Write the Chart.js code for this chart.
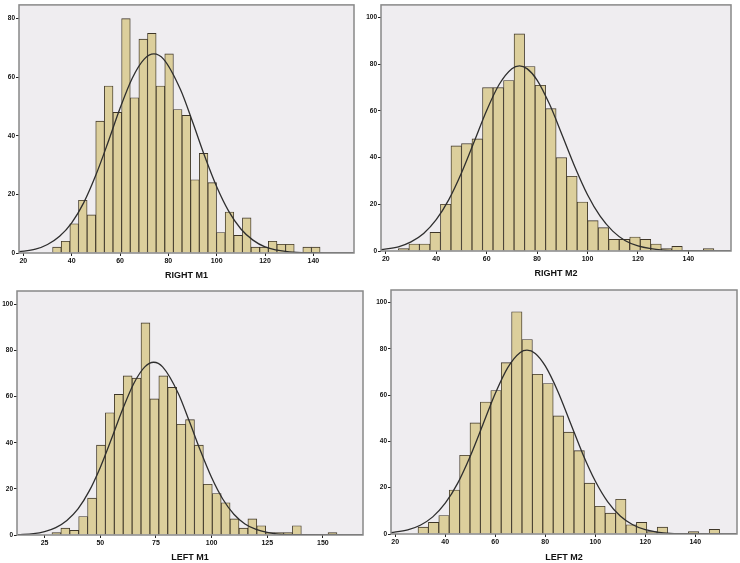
<!DOCTYPE html>
<html>
<head>
<meta charset="utf-8">
<script src="https://cdn.jsdelivr.net/npm/chart.js@4.4.1/dist/chart.umd.min.js"></script>
<style>
  body { margin: 0; background: #fff; }
  #wrap { position: relative; width: 740px; height: 563px; overflow: hidden; }
  canvas { position: absolute; }
</style>
</head>
<body>
<div id="wrap">
  <canvas id="rightM1" width="362" height="285" style="left:0;top:0"></canvas>
  <canvas id="rightM2" width="378" height="285" style="left:362px;top:0"></canvas>
  <canvas id="leftM1" width="370" height="278" style="left:0;top:285px"></canvas>
  <canvas id="leftM2" width="368" height="278" style="left:372px;top:285px"></canvas>
</div>
<script>
// RIGHT M1 - bins (first edge, bin width, counts)
const rm1Start = 32.1, rm1Width = 3.57;
const rm1Counts = [2, 4, 10, 18, 13, 45, 57, 48, 80, 53, 73, 75, 57, 68, 49, 47, 25, 34, 24, 7, 14, 6, 12, 2, 2, 4, 3, 3, 0, 2, 2];
const rm1CurveX = [18, 25, 30, 35, 40, 45, 50, 55, 60, 65, 70, 74, 78, 85, 90, 95, 100, 105, 110, 115, 120, 130, 140, 157];
const rm1CurveY = [0.4, 1.3, 2.9, 5.7, 10.3, 17.2, 26.6, 37.7, 49.4, 59.6, 66.2, 68.0, 66.2, 55.8, 44.8, 33.1, 22.6, 14.2, 8.2, 4.4, 2.1, 0.4, 0.1, 0];
const rm1XTicks = [20, 40, 60, 80, 100, 120, 140];
const rm1YTicks = [0, 20, 40, 60, 80];

// RIGHT M2
const rm2Start = 25.0, rm2Width = 4.17;
const rm2Counts = [1, 3, 3, 8, 20, 45, 46, 48, 70, 70, 73, 93, 79, 71, 61, 40, 32, 21, 13, 10, 5, 5, 6, 5, 3, 1, 2, 0, 0, 1];
const rm2CurveX = [18, 25, 30, 35, 40, 45, 50, 55, 60, 65, 70, 73, 76, 80, 85, 90, 95, 100, 105, 110, 115, 120, 130, 140, 157];
const rm2CurveY = [0.6, 1.8, 3.9, 7.5, 13.4, 22.0, 33.4, 46.7, 60.2, 71.4, 78.1, 79.3, 78.1, 73.2, 62.7, 49.5, 36.0, 24.1, 14.9, 8.5, 4.4, 2.2, 0.4, 0.1, 0];
const rm2XTicks = [20, 40, 60, 80, 100, 120, 140];
const rm2YTicks = [0, 20, 40, 60, 80, 100];

// LEFT M1
const lm1Start = 28.3, lm1Width = 4.0;
const lm1Counts = [1, 3, 2, 8, 16, 39, 53, 61, 69, 68, 92, 59, 69, 64, 48, 50, 39, 22, 18, 14, 7, 3, 7, 4, 1, 1, 1, 4, 0, 0, 0, 1];
const lm1CurveX = [13, 20, 25, 30, 35, 40, 45, 50, 55, 60, 65, 70, 74, 78, 85, 90, 95, 100, 105, 110, 115, 120, 125, 130, 140, 168];
const lm1CurveY = [0.2, 0.6, 1.5, 3.2, 6.3, 11.3, 19.0, 29.3, 41.6, 54.4, 65.6, 72.9, 74.9, 72.9, 61.5, 49.3, 36.5, 24.9, 15.6, 9.0, 4.8, 2.4, 1.1, 0.4, 0.1, 0];
const lm1XTicks = [25, 50, 75, 100, 125, 150];
const lm1YTicks = [0, 20, 40, 60, 80, 100];

// LEFT M2
const lm2Start = 29.1, lm2Width = 4.16;
const lm2Counts = [3, 5, 8, 19, 34, 48, 57, 62, 74, 96, 84, 69, 65, 51, 44, 36, 22, 12, 9, 15, 4, 5, 1, 3, 0, 0, 1, 0, 2];
const lm2CurveX = [18, 25, 30, 35, 40, 45, 50, 55, 60, 65, 70, 72.7, 76, 80, 85, 90, 95, 100, 105, 110, 115, 120, 130, 140, 157];
const lm2CurveY = [0.5, 1.8, 3.8, 7.4, 13.3, 22.0, 33.6, 47.1, 60.7, 71.9, 78.4, 79.4, 78.0, 72.6, 61.7, 48.2, 34.6, 22.9, 13.9, 7.8, 4.0, 1.9, 0.3, 0.1, 0];
const lm2XTicks = [20, 40, 60, 80, 100, 120, 140];
const lm2YTicks = [0, 20, 40, 60, 80, 100];

const fontFamily = '"Liberation Sans", Arial, sans-serif';

// plot area fill + grey frame
const framePlugin = {
  id: 'frame',
  beforeDraw(chart) {
    const { ctx, chartArea: a } = chart;
    ctx.save();
    ctx.fillStyle = '#efedf0';
    ctx.fillRect(a.left, a.top, a.right - a.left, a.bottom - a.top);
    ctx.restore();
  },
  afterDraw(chart) {
    const { ctx, chartArea: a } = chart;
    ctx.save();
    ctx.strokeStyle = '#888888';
    ctx.lineWidth = 1.5;
    ctx.strokeRect(a.left, a.top, a.right - a.left, a.bottom - a.top);
    ctx.restore();
  }
};

function createHistogram(canvasId, d, box) {
  const centers = d.counts.map((_, i) => d.start + d.width * (i + 0.5));

  new Chart(document.getElementById(canvasId), {
    type: 'bar',
    data: {
      datasets: [
        {
          type: 'line',
          data: d.curveX.map((x, i) => ({ x: x, y: d.curveY[i] })),
          borderColor: '#2e2e2e',
          borderWidth: 1.3,
          pointRadius: 0,
          cubicInterpolationMode: 'monotone',
          fill: false,
          order: 0
        },
        {
          data: centers.map((x, i) => ({ x: x, y: d.counts[i] })),
          backgroundColor: '#dccf9c',
          borderColor: '#3e3628',
          borderWidth: 0.9,
          barPercentage: 1,
          categoryPercentage: 1,
          order: 1
        }
      ]
    },
    options: {
      responsive: false,
      animation: false,
      devicePixelRatio: 1,
      layout: { padding: { left: 0, top: box.top, right: box.right, bottom: 0 } },
      plugins: {
        legend: { display: false },
        tooltip: { enabled: false }
      },
      scales: {
        x: {
          type: 'linear',
          min: d.xMin,
          max: d.xMax,
          offset: false,
          grid: { offset: false, drawOnChartArea: false, drawTicks: true, tickLength: 3, color: '#222' },
          border: { display: false },
          ticks: {
            font: { family: fontFamily, size: 7, weight: 'bold' },
            color: '#111',
            padding: 1,
            maxRotation: 0,
            autoSkip: false
          },
          afterBuildTicks: s => { s.ticks = d.xTicks.map(v => ({ value: v })); },
          afterFit: s => { s.height = box.xH; },
          title: {
            display: true,
            text: d.title,
            color: '#111',
            font: { family: fontFamily, size: 9, weight: 'bold' },
            padding: { top: 0, bottom: box.titlePad }
          }
        },
        y: {
          type: 'linear',
          min: 0,
          max: d.yMax,
          grid: { drawOnChartArea: false, drawTicks: true, tickLength: 3, color: '#222' },
          border: { display: false },
          ticks: {
            font: { family: fontFamily, size: 6.5, weight: 'bold' },
            color: '#111',
            padding: 1
          },
          afterBuildTicks: s => { s.ticks = d.yTicks.map(v => ({ value: v })); },
          afterFit: s => { s.width = box.yW; }
        }
      }
    },
    plugins: [framePlugin]
  });
}

createHistogram('rightM1', {
  title: 'RIGHT M1', start: rm1Start, width: rm1Width, counts: rm1Counts,
  curveX: rm1CurveX, curveY: rm1CurveY, xTicks: rm1XTicks, yTicks: rm1YTicks,
  xMin: 18.2, xMax: 156.8, yMax: 84.7
}, { top: 3, right: 8, yW: 19, xH: 32, titlePad: 4.2 });

createHistogram('rightM2', {
  title: 'RIGHT M2', start: rm2Start, width: rm2Width, counts: rm2Counts,
  curveX: rm2CurveX, curveY: rm2CurveY, xTicks: rm2XTicks, yTicks: rm2YTicks,
  xMin: 18.1, xMax: 156.9, yMax: 105.4
}, { top: 4, right: 9, yW: 19, xH: 34, titlePad: 5.8 });

createHistogram('leftM1', {
  title: 'LEFT M1', start: lm1Start, width: lm1Width, counts: lm1Counts,
  curveX: lm1CurveX, curveY: lm1CurveY, xTicks: lm1XTicks, yTicks: lm1YTicks,
  xMin: 12.6, xMax: 168, yMax: 105.8
}, { top: 6, right: 7, yW: 17, xH: 28, titlePad: 0.2 });

createHistogram('leftM2', {
  title: 'LEFT M2', start: lm2Start, width: lm2Width, counts: lm2Counts,
  curveX: lm2CurveX, curveY: lm2CurveY, xTicks: lm2XTicks, yTicks: lm2YTicks,
  xMin: 18.3, xMax: 156.7, yMax: 105.4
}, { top: 5, right: 3, yW: 19, xH: 29, titlePad: 0.2 });
</script>
</body>
</html>
